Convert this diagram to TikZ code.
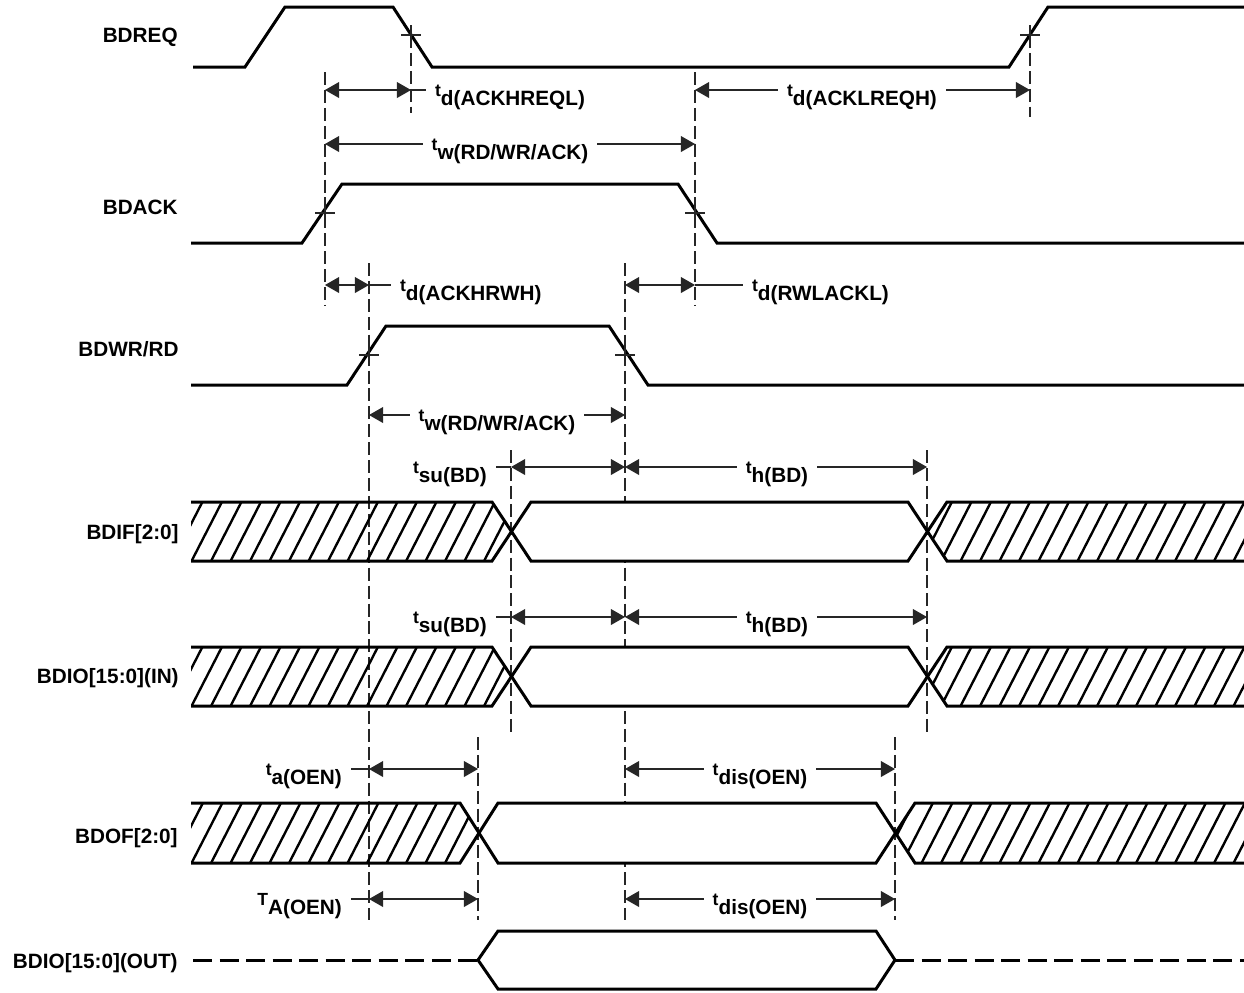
\documentclass[tikz,border=0pt]{standalone}
\usepackage{fontspec}
\setmainfont{Liberation Sans}
\usetikzlibrary{arrows.meta}

\newcommand{\tlab}[2]{{\fontsize{10}{11}\selectfont #1}\raisebox{-5.4pt}{#2}}

\begin{document}
\begin{tikzpicture}[x=0.02cm, y=-0.02cm, >={Triangle[length=8pt,width=9pt]},
  font=\fontsize{11.8}{14}\selectfont\bfseries,
  sig/.style={line width=1.7pt, line join=miter},
  dimln/.style={line width=0.6pt, black!85},
  guide/.style={line width=0.6pt, black!85, dash pattern=on 7.4pt off 2.8pt},
  tick/.style={line width=0.6pt, black!85},
  hatchln/.style={line width=1.35pt},
  siglbl/.style={anchor=base east, inner sep=0pt},
  dimlbl/.style={inner xsep=5pt, inner ysep=0pt}]

\useasboundingbox (0,0) rectangle (1244,992);

% guide lines
\draw[guide] (325,72) -- (325,305);
\draw[guide] (411,35) -- (411,113);
\draw[guide] (695,72) -- (695,305);
\draw[guide] (1030,35) -- (1030,117);
\draw[guide] (369,263) -- (369,920);
\draw[guide] (625,263) -- (625,920);
\draw[guide] (511,450) -- (511,735);
\draw[guide] (927,450) -- (927,735);
\draw[guide] (478,737) -- (478,920);
\draw[guide] (895,737) -- (895,920);

% control signals
\draw[sig] (193,67) -- (245,67) -- (285,7) -- (393,7) -- (432,67) -- (1009,67) -- (1048,7) -- (1244,7); %BDREQ
\draw[sig] (191,243) -- (302,243) -- (342,184) -- (678,184) -- (717,243) -- (1244,243); %BDACK
\draw[sig] (191,385) -- (347,385) -- (386,326) -- (609,326) -- (648,385) -- (1244,385); %BDWR/RD

\foreach \cx/\cy in {411/35, 1030/35, 325/213, 695/213, 369/355, 625/355}
  \draw[tick] (\cx-10,\cy) -- (\cx+10,\cy) (\cx,\cy-10) -- (\cx,\cy+10);

% buses, hatched where not valid
\foreach \yt/\yb/\xa/\xb/\xc/\xd in {502/561/492/531/908/947, 647/706/492/531/908/947, 803/863/460/498/876/915}{
  \begin{scope}
    \clip (191,\yt) -- (\xa,\yt) -- ({(\xa+\xb)/2},{(\yt+\yb)/2}) -- (\xa,\yb) -- (191,\yb) -- cycle;
    \foreach \x in {150,169.5,...,520} \draw[hatchln] (\x,\yb+5) -- ++(38,-74);
  \end{scope}
  \begin{scope}
    \clip (1244,\yt) -- (\xd,\yt) -- ({(\xc+\xd)/2},{(\yt+\yb)/2}) -- (\xd,\yb) -- (1244,\yb) -- cycle;
    \foreach \x in {880,899.5,...,1260} \draw[hatchln] (\x,\yb+5) -- ++(38,-74);
  \end{scope}
  \fill[white] ({(\xa+\xb)/2},{(\yt+\yb)/2}) -- (\xb,\yt) -- (\xc,\yt) -- ({(\xc+\xd)/2},{(\yt+\yb)/2}) -- (\xc,\yb) -- (\xb,\yb) -- cycle;
  \draw[sig] (191,\yt) -- (\xa,\yt) -- (\xb,\yb) -- (\xc,\yb) -- (\xd,\yt) -- (1244,\yt);
  \draw[sig] (191,\yb) -- (\xa,\yb) -- (\xb,\yt) -- (\xc,\yt) -- (\xd,\yb) -- (1244,\yb);
}

% BDIO out, tri-state
\draw[sig, dash pattern=on 10.8pt off 4.3pt] (193,960) -- (478,960);
\draw[sig] (478,960) -- (498,931) -- (876,931) -- (895,960) -- (876,989) -- (498,989) -- cycle;
\draw[sig, dash pattern=on 10.8pt off 4.3pt] (895,960) -- (1244,960);

% signal names
\node[siglbl] (nREQ) at (178,42) {BDREQ};
\node[siglbl] (nACK) at (178,214) {BDACK};
\node[siglbl] (nWR) at (179,356) {BDWR/RD};
\node[siglbl] (nIF) at (179,539) {BDIF[2:0]};
\node[siglbl] (nIOin) at (179,683) {BDIO[15:0](IN)};
\node[siglbl] (nOF) at (178,843) {BDOF[2:0]};
\node[siglbl] (nIOout) at (178,968) {BDIO[15:0](OUT)};

% timing parameters
\coordinate (a1) at (325,90); \coordinate (b1) at (411,90);
\node[dimlbl, anchor=base west] (tdREQL) at (426,96) {\tlab{t}{d(ACKHREQL)}};
\draw[dimln, <->] (a1) -- (b1);
\draw[dimln] (b1) -- (tdREQL.west |- b1);

\coordinate (a2) at (695,90); \coordinate (b2) at (1030,90);
\node[dimlbl, anchor=base] (tdREQH) at (862,96) {\tlab{t}{d(ACKLREQH)}};
\draw[dimln, ->] (tdREQH.west |- a2) -- (a2);
\draw[dimln, ->] (tdREQH.east |- b2) -- (b2);

\coordinate (a3) at (325,144); \coordinate (b3) at (695,144);
\node[dimlbl, anchor=base] (twA) at (510,150) {\tlab{t}{w(RD/WR/ACK)}};
\draw[dimln, ->] (twA.west |- a3) -- (a3);
\draw[dimln, ->] (twA.east |- b3) -- (b3);

\coordinate (a4) at (325,285); \coordinate (b4) at (369,285);
\node[dimlbl, anchor=base west] (tdRWH) at (391,291) {\tlab{t}{d(ACKHRWH)}};
\draw[dimln, <->] (a4) -- (b4);
\draw[dimln] (b4) -- (tdRWH.west |- b4);

\coordinate (a5) at (625,285); \coordinate (b5) at (695,285);
\node[dimlbl, anchor=base west] (tdACKL) at (743,291) {\tlab{t}{d(RWLACKL)}};
\draw[dimln, <->] (a5) -- (b5);
\draw[dimln] (b5) -- (tdACKL.west |- b5);

\coordinate (a6) at (369,415); \coordinate (b6) at (625,415);
\node[dimlbl, anchor=base] (twB) at (497,421) {\tlab{t}{w(RD/WR/ACK)}};
\draw[dimln, ->] (twB.west |- a6) -- (a6);
\draw[dimln, ->] (twB.east |- b6) -- (b6);

\foreach \yy/\nm in {467/A, 617/B}{
  \coordinate (su\nm) at (511,\yy); \coordinate (mid\nm) at (625,\yy); \coordinate (h\nm) at (927,\yy);
  \node[dimlbl, anchor=base east] (tsu\nm) at (496,\yy+6) {\tlab{t}{su(BD)}};
  \draw[dimln] (tsu\nm.east |- su\nm) -- (su\nm);
  \draw[dimln, <->] (su\nm) -- (mid\nm);
  \node[dimlbl, anchor=base] (th\nm) at (777,\yy+6) {\tlab{t}{h(BD)}};
  \draw[dimln, ->] (th\nm.west |- mid\nm) -- (mid\nm);
  \draw[dimln, ->] (th\nm.east |- h\nm) -- (h\nm);
}

\foreach \yy/\nm/\sym/\sub in {769/A/t/a(OEN), 899/B/T/A(OEN)}{
  \coordinate (oe\nm) at (369,\yy); \coordinate (oa\nm) at (478,\yy);
  \coordinate (ds\nm) at (625,\yy); \coordinate (de\nm) at (895,\yy);
  \node[dimlbl, anchor=base east] (ta\nm) at (351,\yy+6) {\tlab{\sym}{\sub}};
  \draw[dimln] (ta\nm.east |- oe\nm) -- (oe\nm);
  \draw[dimln, <->] (oe\nm) -- (oa\nm);
  \node[dimlbl, anchor=base] (tdis\nm) at (760,\yy+6) {\tlab{t}{dis(OEN)}};
  \draw[dimln, ->] (tdis\nm.west |- ds\nm) -- (ds\nm);
  \draw[dimln, ->] (tdis\nm.east |- de\nm) -- (de\nm);
}

\end{tikzpicture}
\end{document}
